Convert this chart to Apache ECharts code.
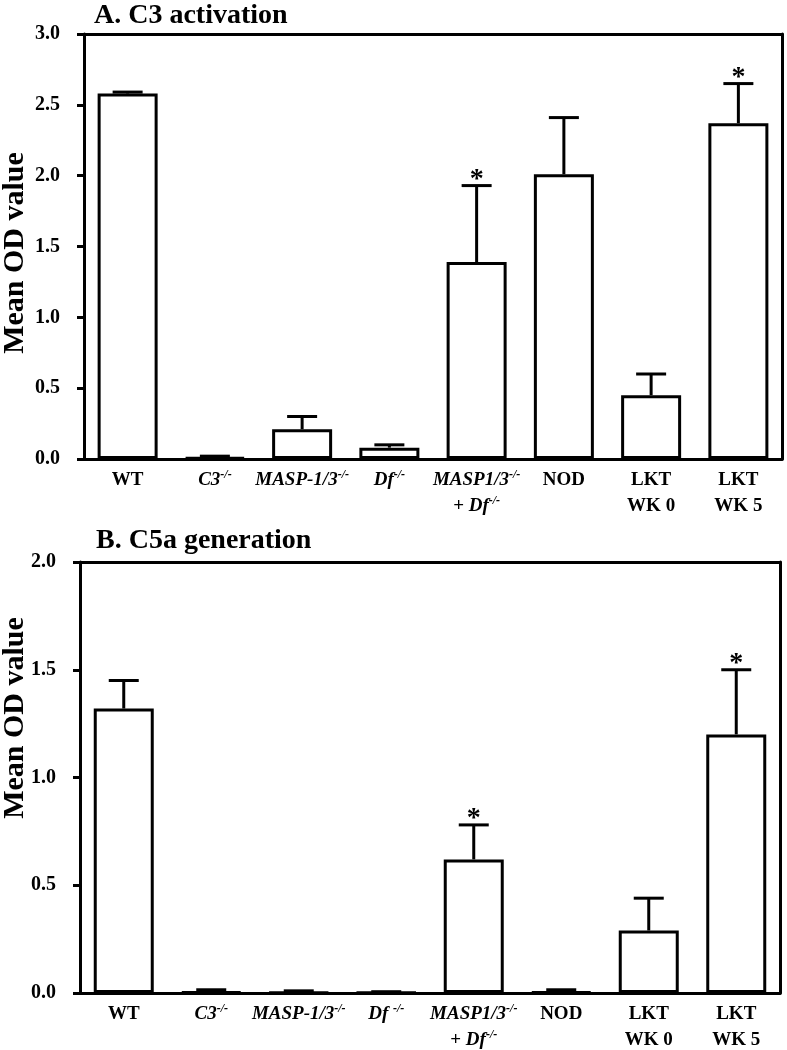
<!DOCTYPE html>
<html><head><meta charset="utf-8">
<script src="https://cdn.jsdelivr.net/npm/echarts@6/dist/echarts.min.js"></script>
<style>html,body{margin:0;padding:0;background:#fff}#c{width:787px;height:1050px}</style>
</head><body><div id="c"></div>
<script>
// ---- data ----
const categoriesA = ['WT','C3-/-','MASP-1/3-/-','Df-/-','MASP1/3-/- + Df-/-','NOD','LKT WK 0','LKT WK 5'];
const categoriesB = ['WT','C3-/-','MASP-1/3-/-','Df -/-','MASP1/3-/- + Df-/-','NOD','LKT WK 0','LKT WK 5'];
const labelsA = ['{b|WT}','{bi|C3}{sup|-/-}','{bi|MASP-1/3}{sup|-/-}','{bi|Df}{sup|-/-}','{bi|MASP1/3}{sup|-/-}\n{b|+ }{bi|Df}{sup|-/-}','{b|NOD}','{b|LKT}\n{b|WK 0}','{b|LKT}\n{b|WK 5}'];
const labelsB = ['{b|WT}','{bi|C3}{sup|-/-}','{bi|MASP-1/3}{sup|-/-}','{bi|Df }{sup|-/-}','{bi|MASP1/3}{sup|-/-}\n{b|+ }{bi|Df}{sup|-/-}','{b|NOD}','{b|LKT}\n{b|WK 0}','{b|LKT}\n{b|WK 5}'];
const meanA  = [2.58, 0.01, 0.21, 0.08, 1.39, 2.01, 0.45, 2.37];
const upperA = [2.59, 0.02, 0.30, 0.10, 1.93, 2.41, 0.60, 2.65];
const starA  = [0, 0, 0, 0, 1, 0, 0, 1];
const meanB  = [1.32, 0.005, 0.003, 0.002, 0.62, 0.005, 0.29, 1.20];
const upperB = [1.45, 0.015, 0.010, 0.006, 0.78, 0.015, 0.44, 1.50];
const starB  = [0, 0, 0, 0, 1, 0, 0, 1];
const yTicksA = {min:0, max:3.0, interval:0.5};
const yTicksB = {min:0, max:2.0, interval:0.5};
const titleA = 'A. C3 activation';
const titleB = 'B. C5a generation';
const yName = 'Mean OD value';

// ---- styling ----
const FONT = '"Liberation Serif", "Times New Roman", serif';
const rich = {
  b:  {fontFamily: FONT, fontWeight: 'bold', fontSize: 19, color: '#000', lineHeight: 26},
  bi: {fontFamily: FONT, fontWeight: 'bold', fontStyle: 'italic', fontSize: 19, color: '#000', lineHeight: 26},
  sup:{fontFamily: FONT, fontWeight: 'bold', fontStyle: 'italic', fontSize: 12, color: '#000', padding:[0,0,10,0], lineHeight: 26}
};
function xAxisFor(idx, cats, labels) {
  return {
    type: 'category', gridIndex: idx, data: cats,
    axisLine: {lineStyle: {color: '#000', width: 3}},
    axisTick: {alignWithLabel: true, length: 8, lineStyle: {color: '#000', width: 3}},
    axisLabel: {interval: 0, margin: 8, formatter: (v, i) => labels[i], rich: rich}
  };
}
function frameX(idx) {
  return {type: 'category', gridIndex: idx, position: 'top', data: [],
    axisLine: {show: true, onZero: false, lineStyle: {color: '#000', width: 3}},
    axisTick: {show: false}, axisLabel: {show: false}};
}
function yAxisFor(idx, t) {
  return {
    type: 'value', gridIndex: idx, min: t.min, max: t.max, interval: t.interval,
    splitLine: {show: false},
    axisLine: {show: true, lineStyle: {color: '#000', width: 3}},
    axisTick: {show: true, length: 7, lineStyle: {color: '#000', width: 3}},
    axisLabel: {margin: 24, formatter: v => v.toFixed(1), fontFamily: FONT, fontWeight: 'bold', fontSize: 20, color: '#000'}
  };
}
function frameY(idx, t) {
  return {type: 'value', gridIndex: idx, position: 'right', min: t.min, max: t.max,
    axisLine: {show: true, lineStyle: {color: '#000', width: 3}},
    axisTick: {show: false}, axisLabel: {show: false}, splitLine: {show: false}};
}
function barSeries(xi, yi, data) {
  return {type: 'bar', xAxisIndex: xi, yAxisIndex: yi, data: data, barWidth: 60,
    itemStyle: {color: '#fff', borderColor: '#000', borderWidth: 3}, silent: true, z: 2};
}
function errSeries(xi, yi, mean, upper, star) {
  return {type: 'custom', xAxisIndex: xi, yAxisIndex: yi, z: 3, silent: true,
    data: mean.map((m, i) => [i, m, upper[i], star[i]]),
    renderItem: function (params, api) {
      const p0 = api.coord([api.value(0), api.value(1)]);
      const p1 = api.coord([api.value(0), api.value(2)]);
      const st = {stroke: '#000', lineWidth: 3};
      const children = [
        {type: 'line', shape: {x1: p0[0], y1: p0[1], x2: p1[0], y2: p1[1]}, style: st},
        {type: 'line', shape: {x1: p1[0] - 15, y1: p1[1], x2: p1[0] + 15, y2: p1[1]}, style: st}
      ];
      if (api.value(3)) {
        children.push({type: 'text', style: {text: '*', x: p1[0], y: p1[1] + 8, align: 'center', verticalAlign: 'bottom',
          fontFamily: FONT, fontWeight: 'bold', fontSize: 28, fill: '#000'}});
      }
      return {type: 'group', children: children};
    }
  };
}
const nameStyle = {fontFamily: FONT, fontWeight: 'bold', fontSize: 30, fill: '#000', align: 'center', verticalAlign: 'middle'};

const chart = echarts.init(document.getElementById('c'), null, {renderer: 'canvas'});
chart.setOption({
  backgroundColor: '#fff',
  animation: false,
  title: [
    {text: titleA, left: 89, top: -3, textStyle: {fontFamily: FONT, fontWeight: 'bold', fontSize: 28, color: '#000'}},
    {text: titleB, left: 91, top: 522, textStyle: {fontFamily: FONT, fontWeight: 'bold', fontSize: 28, color: '#000'}}
  ],
  graphic: [
    {type: 'text', x: 15, y: 253, rotation: Math.PI / 2, style: Object.assign({text: yName}, nameStyle)},
    {type: 'text', x: 15, y: 718, rotation: Math.PI / 2, style: Object.assign({text: yName}, nameStyle)}
  ],
  grid: [
    {left: 84, right: 5, top: 34, bottom: 591, outerBoundsMode: 'none', containLabel: false},
    {left: 80, right: 7, top: 562, bottom: 57, outerBoundsMode: 'none', containLabel: false}
  ],
  xAxis: [xAxisFor(0, categoriesA, labelsA), xAxisFor(1, categoriesB, labelsB), frameX(0), frameX(1)],
  yAxis: [yAxisFor(0, yTicksA), yAxisFor(1, yTicksB), frameY(0, yTicksA), frameY(1, yTicksB)],
  series: [
    barSeries(0, 0, meanA), errSeries(0, 0, meanA, upperA, starA),
    barSeries(1, 1, meanB), errSeries(1, 1, meanB, upperB, starB)
  ]
});
</script></body></html>
